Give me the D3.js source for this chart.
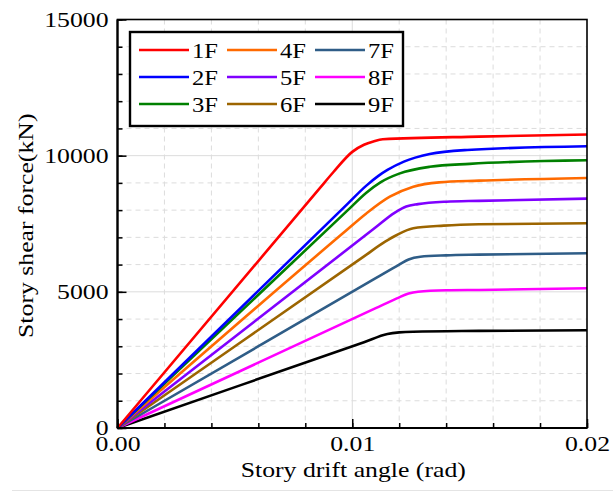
<!DOCTYPE html>
<html>
<head>
<meta charset="utf-8">
<script src="https://cdn.jsdelivr.net/npm/d3@7"></script>
<style>
  body { margin: 0; background: #fff; }
  svg { display: block; }
  text { font-family: "Liberation Serif", "Times New Roman", Times, "DejaVu Serif", serif; fill: #000; }
</style>
</head>
<body>
<div id="chart"></div>
<script>
// ── Data ───────────────────────────────────────────────────────────────────
const floors = ["1F", "2F", "3F", "4F", "5F", "6F", "7F", "8F", "9F"];
const colors = ["#ff0000", "#0000ff", "#008000", "#ff6a00", "#8000ff",
                "#9c6500", "#2f5d87", "#ff00ff", "#000000"];

// [drift angle (rad), shear force (kN)]
const f1 = [[0, 0], [0.0086, 8790], [0.0092, 9400], [0.0100, 10140], [0.0105, 10400], [0.0109, 10520], [0.0113, 10600], [0.0154, 10700], [0.0200, 10775]];
const f2 = [[0, 0], [0.0098, 8230], [0.0106, 8900], [0.0111, 9250], [0.0115, 9475], [0.0122, 9780], [0.0133, 10060], [0.0149, 10210], [0.0200, 10345]];
const f3 = [[0, 0], [0.0098, 7990], [0.0106, 8640], [0.0112, 9020], [0.0120, 9340], [0.0133, 9590], [0.0150, 9700], [0.0200, 9830]];
const f4 = [[0, 0], [0.0096, 7150], [0.0106, 7880], [0.0116, 8494], [0.0126, 8862], [0.0137, 9020], [0.0154, 9082], [0.0200, 9181]];
const f5 = [[0, 0], [0.0110, 7370], [0.0118, 7900], [0.0123, 8130], [0.0128, 8220], [0.0140, 8310], [0.0154, 8340], [0.0200, 8421]];
const f6 = [[0, 0], [0.0105, 6300], [0.0114, 6840], [0.0119, 7088], [0.0126, 7334], [0.0139, 7430], [0.0154, 7480], [0.0200, 7517]];
const f7 = [[0, 0], [0.0110, 5500], [0.0120, 6000], [0.0124, 6190], [0.0129, 6290], [0.0140, 6340], [0.0154, 6365], [0.0200, 6416]];
const f8 = [[0, 0], [0.0110, 4400], [0.0119, 4760], [0.0124, 4940], [0.0128, 5006], [0.0140, 5057], [0.0154, 5070], [0.0200, 5130]];
const f9 = [[0, 0], [0.0105, 3150], [0.0115, 3450], [0.0120, 3510], [0.0126, 3537], [0.0154, 3565], [0.0200, 3590]];
const seriesValues = [f1, f2, f3, f4, f5, f6, f7, f8, f9];

const xMajorTicks = [0, 0.01, 0.02];
const xTickLabels = ["0.00", "0.01", "0.02"];
const yMajorTicks = [0, 5000, 10000, 15000];

// ── Dimensions ─────────────────────────────────────────────────────────────
const W = 613, H = 493;
const margin = { top: 19.5, right: 26, bottom: 65, left: 117.5 };
const width = W - margin.left - margin.right;
const height = H - margin.top - margin.bottom;
const FONT = '"Liberation Serif", "Times New Roman", Times, "DejaVu Serif", serif';
const STRETCH = 1.17; // the reference type is a bit wide

const svg = d3.select("#chart").append("svg")
  .attr("width", W).attr("height", H)
  .attr("font-family", FONT);

const g = svg.append("g")
  .attr("transform", `translate(${margin.left},${margin.top})`);

// ── Scales ─────────────────────────────────────────────────────────────────
const x = d3.scaleLinear().domain([0, 0.02]).range([0, width]);
const y = d3.scaleLinear().domain([0, 15000]).range([height, 0]);

const xMinor = d3.range(0, 0.02001, 0.002);
const yMinor = d3.range(0, 15001, 1000);

// ── Grid Lines ─────────────────────────────────────────────────────────────
g.append("g").selectAll("line")
  .data(yMinor.filter((d) => d > 0 && d < 15000))
  .join("line")
  .attr("x1", 0).attr("x2", width)
  .attr("y1", (d) => y(d)).attr("y2", (d) => y(d))
  .attr("stroke", "#dcdcdc").attr("stroke-width", 1)
  .attr("stroke-dasharray", (d) => (d % 5000 === 0 ? null : "5,4"));

g.append("g").selectAll("line")
  .data(xMinor.filter((d, i) => i > 0 && i < xMinor.length - 1))
  .join("line")
  .attr("x1", (d) => x(d)).attr("x2", (d) => x(d))
  .attr("y1", 0).attr("y2", height)
  .attr("stroke", "#dcdcdc").attr("stroke-width", 1)
  .attr("stroke-dasharray", (d, i) => (i === 4 ? null : "5,4"));

// ── Lines ──────────────────────────────────────────────────────────────────
const line = d3.line()
  .x((d) => x(d[0])).y((d) => y(d[1]))
  .curve(d3.curveMonotoneX);

g.append("g").selectAll("path")
  .data(seriesValues.slice().reverse())
  .join("path")
  .attr("d", line)
  .attr("fill", "none")
  .attr("stroke", (d, i) => colors[seriesValues.length - 1 - i])
  .attr("stroke-width", 2.6)
  .attr("stroke-linejoin", "round");

// ── Axes ───────────────────────────────────────────────────────────────────
const axisStyle = (sel) => {
  sel.attr("font-family", FONT).attr("font-size", 22);
  sel.select(".domain").remove();
  sel.selectAll("line").attr("stroke", "#000").attr("stroke-width", 1.5);
  sel.selectAll("text").style("font-family", FONT).attr("fill", "#000");
};

g.append("g")
  .call(d3.axisLeft(y).tickValues(yMinor).tickSize(-5).tickFormat(""))
  .call(axisStyle);
g.append("g")
  .call(d3.axisLeft(y).tickValues(yMajorTicks).tickSize(-9).tickPadding(9)
    .tickFormat((d) => d))
  .call(axisStyle)
  .selectAll("text").attr("dy", "0.3em");

g.append("g").attr("transform", `translate(0,${height})`)
  .call(d3.axisBottom(x).tickValues(xMinor).tickSize(-5).tickFormat(""))
  .call(axisStyle);
g.append("g").attr("transform", `translate(0,${height})`)
  .call(d3.axisBottom(x).tickValues(xMajorTicks).tickSize(-9).tickPadding(7)
    .tickFormat((d, i) => xTickLabels[i]))
  .call(axisStyle);

// frame
g.append("rect")
  .attr("width", width).attr("height", height)
  .attr("fill", "none").attr("stroke", "#000").attr("stroke-width", 1.6);
g.append("line")
  .attr("x1", 0).attr("x2", 0).attr("y1", 0).attr("y2", height)
  .attr("stroke", "#000").attr("stroke-width", 2.2);
g.append("line")
  .attr("x1", 0).attr("x2", width).attr("y1", height).attr("y2", height)
  .attr("stroke", "#000").attr("stroke-width", 2.2);

// ── Axis Labels ────────────────────────────────────────────────────────────
svg.append("text")
  .attr("x", margin.left + width / 2 + 1)
  .attr("y", 477)
  .attr("text-anchor", "middle")
  .style("font-family", FONT)
  .style("font-size", "22px")
  .text("Story drift angle (rad)");

svg.append("text")
  .attr("transform", `translate(33,${margin.top + height / 2 + 2}) rotate(-90)`)
  .attr("text-anchor", "middle")
  .style("font-family", FONT)
  .style("font-size", "22px")
  .text("Story shear force(kN)");

// ── Legend ─────────────────────────────────────────────────────────────────
const legend = svg.append("g").attr("transform", "translate(130,32)");
legend.append("rect")
  .attr("width", 273).attr("height", 94)
  .attr("fill", "#fff").attr("stroke", "#000").attr("stroke-width", 2.4);

floors.forEach((name, i) => {
  const col = Math.floor(i / 3), row = i % 3;
  const item = legend.append("g")
    .attr("transform", `translate(${9 + col * 88},${18 + row * 27})`);
  item.append("line")
    .attr("x1", 0).attr("x2", 50)
    .attr("stroke", colors[i]).attr("stroke-width", 2.6);
  item.append("text")
    .attr("x", 53).attr("y", 7.5)
    .style("font-family", FONT)
    .style("font-size", "21px")
    .text(name);
});

// widen every label a little, like the reference type
svg.selectAll("text").each(function () {
  const len = this.getComputedTextLength();
  if (len > 0) {
    d3.select(this)
      .attr("textLength", len * STRETCH)
      .attr("lengthAdjust", "spacingAndGlyphs");
  }
});

// faint bottom rule
svg.append("line")
  .attr("x1", 12).attr("x2", W).attr("y1", 490.5).attr("y2", 490.5)
  .attr("stroke", "#e4e4e4").attr("stroke-width", 1);
</script>
</body>
</html>
